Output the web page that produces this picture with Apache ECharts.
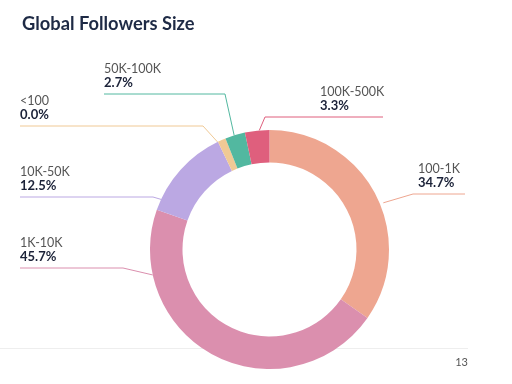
<!DOCTYPE html>
<html><head><meta charset="utf-8">
<script src="https://cdn.jsdelivr.net/npm/echarts@6/dist/echarts.min.js"></script>
<style>html,body{margin:0;padding:0;background:#fff}#c{width:512px;height:384px}</style>
</head><body><div id="c"></div>
<script>
const categories = ['100-1K', '1K-10K', '10K-50K', '<100', '50K-100K', '100K-500K'];
const sliceShares = [34.7, 45.7, 12.5, 1.1, 2.7, 3.3];
const labelPercents = [34.7, 45.7, 12.5, 0.0, 2.7, 3.3];
const colors = ['#eea690', '#db8fae', '#bba8e3', '#f0c995', '#52b8a0', '#df5f7d'];

const CX = 269.5, CY = 249.5, R0 = 87, R1 = 119.5;
// leader-line layout: anchor angle (deg clockwise from top), anchor radius, line y, bend x, end x, text x
const labelPlaces = [
  {a: 67.7, r: 123, y: 194, bend: 413, end: 465, tx: 418},
  {a: 257.7, r: 119.5, y: 268, bend: 123, end: 20, tx: 20},
  {a: 294.8, r: 119.5, y: 197, bend: 153, end: 20, tx: 20},
  {a: 334.2, r: 119.5, y: 126, bend: 203, end: 20, tx: 20},
  {a: 342.8, r: 119.5, y: 94, bend: 225, end: 104, tx: 104},
  {a: 355.1, r: 119.5, y: 117, bend: 265, end: 383, tx: 320}
];

const chart = echarts.init(document.getElementById('c'), null, {renderer: 'canvas'});
const FONT = 'Lato, "Noto Sans", sans-serif';
chart.setOption({
  animation: false,
  backgroundColor: '#ffffff',
  title: {
    text: 'Global Followers Size',
    left: 17, top: 10,
    textStyle: {fontFamily: FONT, fontSize: 18.3, fontWeight: 'bold', color: '#1e2a45'}
  },
  graphic: [
    {type: 'line', z: 0, shape: {x1: 0, y1: 348.5, x2: 468, y2: 348.5}, style: {stroke: '#eeeeee', lineWidth: 1}},
    {type: 'text', z: 0, x: 468, y: 362, style: {text: '13', fill: '#555', font: '11px ' + FONT, textAlign: 'right', textVerticalAlign: 'middle'}}
  ],
  series: [{
    type: 'pie',
    z: 5,
    center: [CX, CY],
    radius: [R0, R1],
    startAngle: 90,
    clockwise: true,
    avoidLabelOverlap: false,
    emphasis: {disabled: true},
    data: categories.map((c, i) => ({
      name: c,
      value: sliceShares[i],
      itemStyle: {color: colors[i]}
    })),
    label: {
      show: true,
      position: 'outside',
      fontFamily: FONT,
      formatter: p => '{n|' + p.name + '}\n{v|' + labelPercents[p.dataIndex].toFixed(1) + '%}',
      rich: {
        n: {fontFamily: FONT, fontSize: 12.5, lineHeight: 14, color: '#555555'},
        v: {fontFamily: FONT, fontSize: 13, lineHeight: 14, color: '#1b2238', fontWeight: 'bold'}
      }
    },
    labelLine: {show: true, lineStyle: {width: 1}},
    labelLayout: function (p) {
      const L = labelPlaces[p.dataIndex];
      const rad = L.a * Math.PI / 180;
      const sx = CX + L.r * Math.sin(rad), sy = CY - L.r * Math.cos(rad);
      return {
        x: L.tx, y: L.y - 4, align: 'left', verticalAlign: 'bottom',
        labelLinePoints: [[sx, sy], [L.bend, L.y], [L.end, L.y]]
      };
    }
  }]
});
</script>
</body></html>
